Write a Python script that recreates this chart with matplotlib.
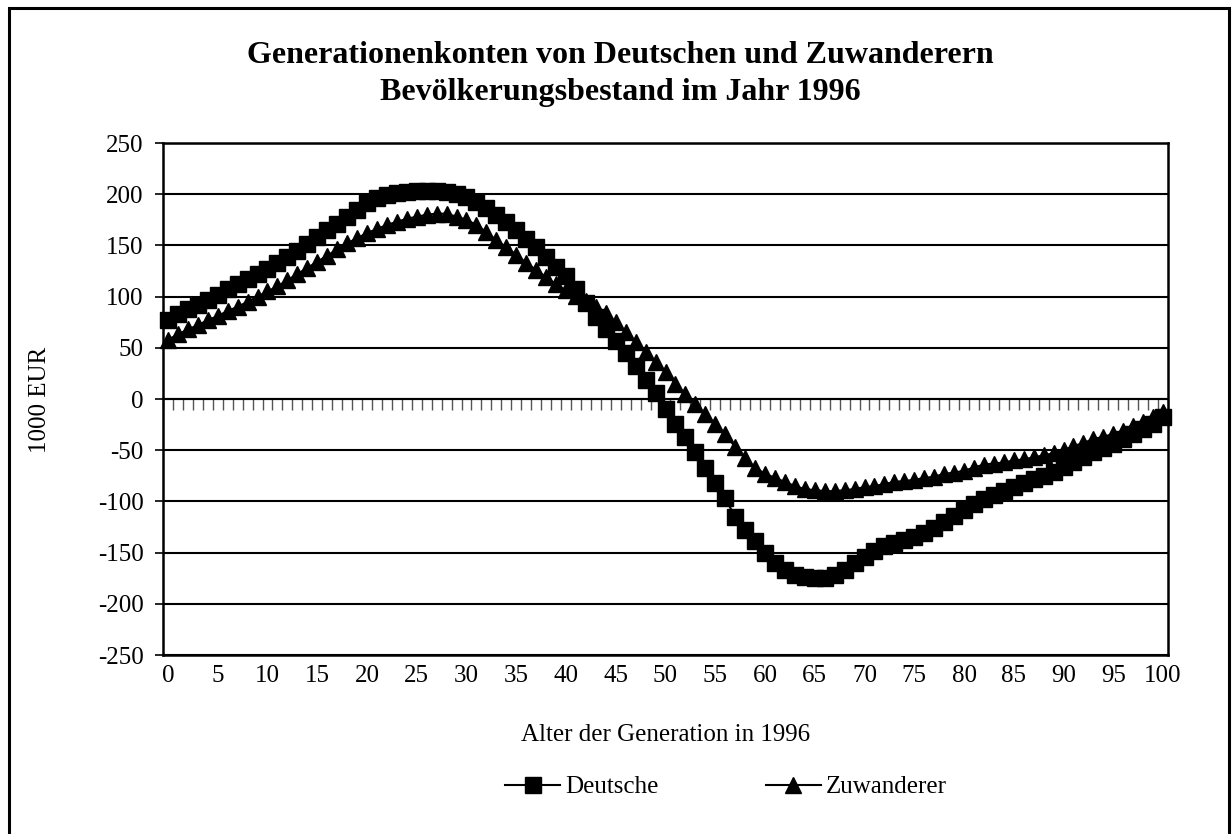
import matplotlib
matplotlib.use("Agg")
import matplotlib.pyplot as plt
import matplotlib.patches as mpatches
from matplotlib.lines import Line2D
import numpy as np

plt.rcParams['font.family'] = ['Liberation Serif', 'DejaVu Serif']
plt.rcParams['axes.unicode_minus'] = False

title = "Generationenkonten von Deutschen und Zuwanderern\nBevölkerungsbestand im Jahr 1996"
x_label = "Alter der Generation in 1996"
y_label = "1000 EUR"
series_names = ["Deutsche", "Zuwanderer"]

ages = list(range(0, 101))

deutsche = [
    77, 83, 88, 92, 97, 102, 107, 112, 117, 122,
    127, 133, 139, 145, 151, 158, 165, 171, 178, 185,
    191, 196, 199, 201, 202, 203, 203, 203, 202, 200,
    197, 192, 187, 180, 173, 165, 156, 148, 139, 129,
    120, 107, 94, 80, 68, 57, 45, 32, 19, 6,
    -10, -24, -37, -52, -67, -82, -97, -115, -128, -139,
    -150, -160, -167, -172, -174, -175, -175, -172, -167, -160,
    -154, -148, -144, -141, -138, -135, -131, -126, -120, -114,
    -108, -103, -98, -94, -90, -86, -82, -78, -75, -71,
    -66, -62, -57, -52, -48, -44, -39, -34, -29, -24,
    -18,
]

zuwanderer = [
    58, 63, 68, 72, 77, 81, 86, 90, 95, 100,
    105, 110, 116, 122, 128, 134, 140, 146, 152, 157,
    162, 166, 170, 173, 176, 178, 180, 181, 181, 178,
    175, 170, 163, 155, 148, 141, 133, 126, 119, 112,
    106, 101, 96, 90, 84, 75, 65, 56, 46, 36,
    26, 15, 5, -5, -15, -24, -34, -47, -58, -67,
    -73, -77, -81, -85, -88, -89, -90, -90, -89, -88,
    -86, -85, -83, -81, -80, -79, -77, -76, -73, -72,
    -70, -67, -64, -63, -62, -60, -59, -57, -55, -53,
    -50, -46, -43, -39, -37, -34, -31, -26, -22, -18,
    -13,
]

x_ticks = list(range(0, 101, 5))
y_ticks = list(range(-250, 251, 50))

W, H = 1232, 834
fig = plt.figure(figsize=(W / 100, H / 100), dpi=100)
fig.patch.set_facecolor('white')

L, R, T, B = 163, 1168, 143, 655
ax = fig.add_axes([L / W, 1 - B / H, (R - L) / W, (B - T) / H])

ax.plot(ages, deutsche, color='black', lw=1.5, marker='s', ms=11.5,
        mfc='black', mec='black', zorder=3, clip_on=False)
ax.plot(ages, zuwanderer, color='black', lw=1.5, marker='^', ms=12,
        mfc='black', mec='black', zorder=3, clip_on=False)

ax.set_xlim(-0.5, 100.5)
ax.set_ylim(-250, 250)
ax.set_yticks(y_ticks)
ax.set_yticklabels([str(v) for v in y_ticks])
ax.set_xticks(x_ticks)
ax.set_xticklabels([str(v) for v in x_ticks])
ax.tick_params(axis='x', length=0, pad=7, labelsize=18)
ax.tick_params(axis='y', length=6, width=1.2, direction='out', pad=8, labelsize=18, color='black')

ax.yaxis.grid(True, color='black', lw=1.5)
ax.set_axisbelow(True)
for s in ax.spines.values():
    s.set_linewidth(1.8)
    s.set_color('black')

# category axis crossing at zero with tick marks between categories
sec = ax.secondary_xaxis(0.5)
sec.set_xticks(np.arange(-0.5, 101, 1))
sec.set_xticklabels([])
sec.tick_params(axis='x', direction='in', length=8, width=1.0, color='#555555')
for sp in sec.spines.values():
    sp.set_linewidth(1.5)
    sp.set_color('black')

fig.text(620 / W, 1 - 74 / H, title, ha='center', va='center', fontsize=23,
         fontweight='bold', linespacing=1.38)
fig.text(40 / W, 1 - 400 / H, y_label, ha='center', va='center', rotation=90, fontsize=18)
fig.text(666 / W, 1 - 735 / H, x_label, ha='center', va='center', fontsize=18)

handles = [
    Line2D([], [], color='black', lw=1.5, marker='s', ms=11.5, mfc='black', mec='black'),
    Line2D([], [], color='black', lw=1.5, marker='^', ms=12, mfc='black', mec='black'),
]
fig.legend(handles, series_names, loc='center', bbox_to_anchor=(726 / W, 1 - 787 / H),
           ncol=2, frameon=False, fontsize=18, handlelength=2.2, handletextpad=0.2,
           columnspacing=4.3)

border = mpatches.Rectangle((9 / W, -0.02), (1229 - 9) / W, 1.02 - 8 / H,
                            transform=fig.transFigure, fill=False, lw=2.2,
                            edgecolor='black')
fig.patches.append(border)

fig.savefig("out.png", dpi=100, facecolor='white')
